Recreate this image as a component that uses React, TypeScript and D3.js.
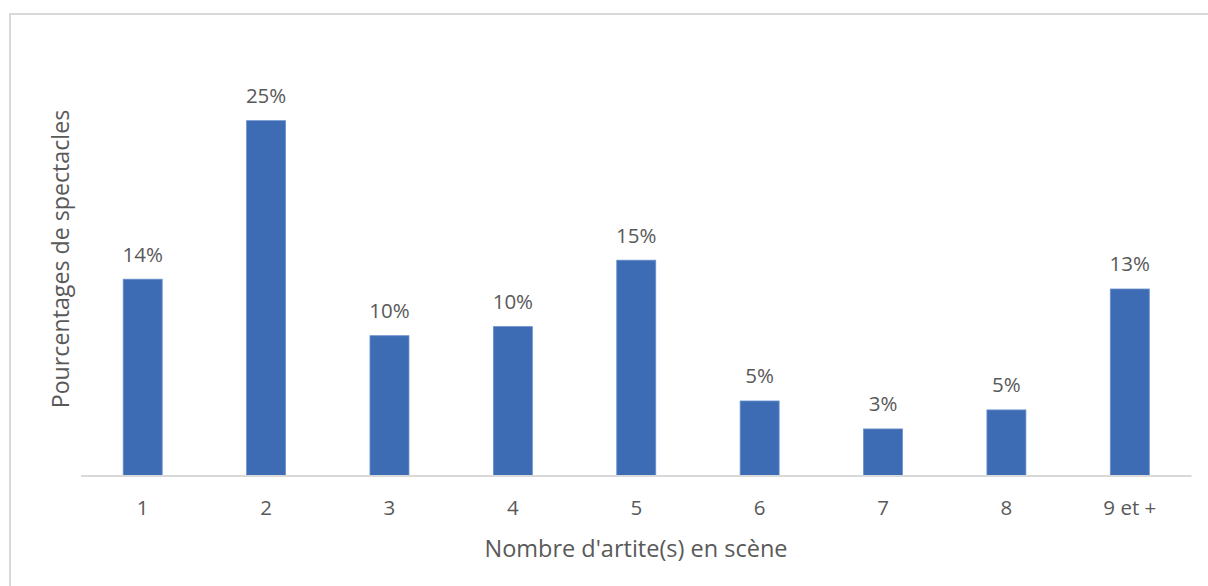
import React from "react";
import * as d3 from "d3";

const categories = ["1", "2", "3", "4", "5", "6", "7", "8", "9 et +"];
const values = [13.83, 25.0, 9.85, 10.49, 15.17, 5.25, 3.28, 4.62, 13.14];
const yTitle = "Pourcentages de spectacles";
const xTitle = "Nombre d'artite(s) en scène";

const W = 1208;
const H = 586;
const FONT = "'Open Sans', 'DejaVu Sans', sans-serif";
const TEXT = "#595959";

export default function App() {
  const x = d3
    .scaleBand<string>()
    .domain(categories)
    .range([81, 1191.5])
    .paddingInner(0.684)
    .paddingOuter(0.342);
  const y = d3.scaleLinear().domain([0, 30]).range([475.5, 49.7]);
  const fmt = d3.format(".0%");

  return (
    <svg
      width={W}
      height={H}
      style={{ position: "absolute", left: 0, top: 0, background: "#fff" }}
    >
      <rect x={0} y={0} width={W} height={H} fill="#fff" />
      {/* chart border */}
      <rect x={10} y={14} width={W + 20} height={H + 20} fill="none" stroke="#d9d9d9" strokeWidth={2} />

      {/* bars */}
      {values.map((v, i) => (
        <rect
          key={categories[i]}
          x={x(categories[i])}
          y={y(v)}
          width={x.bandwidth()}
          height={y(0) - y(v)}
          fill="#3d6cb4"
          stroke="#6a90cc"
          strokeWidth={0.8}
        />
      ))}

      {/* axis line */}
      <line x1={81} x2={1191.5} y1={476} y2={476} stroke="#d9d9d9" strokeWidth={2} />

      {/* data labels */}
      {values.map((v, i) => (
        <text
          key={"l" + i}
          x={(x(categories[i]) as number) + x.bandwidth() / 2}
          y={y(v) - 17.6}
          textAnchor="middle"
          fontFamily={FONT}
          fontSize={20.5}
          fill={TEXT}
        >
          {fmt(v / 100)}
        </text>
      ))}

      {/* tick labels */}
      {categories.map((c) => (
        <text
          key={"t" + c}
          x={(x(c) as number) + x.bandwidth() / 2}
          y={515}
          textAnchor="middle"
          fontFamily={FONT}
          fontSize={20.5}
          fill={TEXT}
        >
          {c}
        </text>
      ))}

      {/* axis titles */}
      <text
        x={636}
        y={556.5}
        textAnchor="middle"
        fontFamily={FONT}
        fontSize={23.5}
        fill={TEXT}
      >
        {xTitle}
      </text>
      <text
        transform="translate(68.5,259) rotate(-90)"
        textAnchor="middle"
        fontFamily={FONT}
        fontSize={23.2}
        fill={TEXT}
      >
        {yTitle}
      </text>
    </svg>
  );
}
